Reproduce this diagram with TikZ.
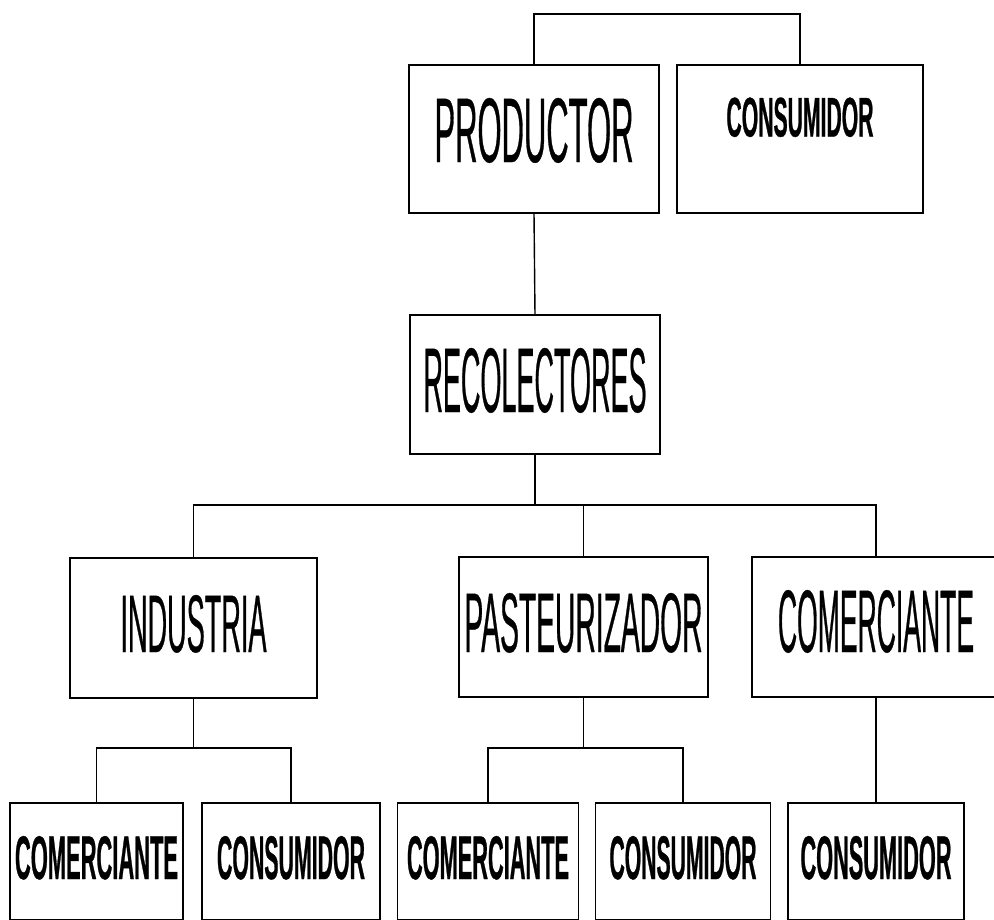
\documentclass[tikz,border=0pt]{standalone}
\usepackage{fontspec}
\setmainfont{Liberation Sans}
\newfontfamily\regc{Liberation Sans}[FakeStretch=0.4, FakeBold=0.4]
\newfontfamily\boldc{Liberation Sans}[FakeStretch=0.5, FakeBold=0.6]
\usepackage{graphicx}
\newcommand{\fitlbl}[3]{\resizebox{#1pt}{#2pt}{#3}}
\begin{document}
\begin{tikzpicture}[x=1pt,y=-1pt,
  box/.style={draw, rectangle, inner sep=0pt, outer sep=0pt, line width=1.5pt},
  conn/.style={line width=1.4pt}]
\clip (0,0) rectangle (994,919);
% top level
\node[box, minimum width=250pt, minimum height=148pt, text depth=18pt] (prod) at (534,139) {\fitlbl{199}{64}{\regc PRODUCTOR}};
\node[box, minimum width=246pt, minimum height=148pt, text depth=44pt] (cons0) at (800,139) {\fitlbl{147}{39}{\boldc\bfseries CONSUMIDOR}};
% collectors
\node[box, minimum width=250pt, minimum height=139pt, text depth=9pt] (rec) at (535,384.5) {\fitlbl{223}{64}{\regc RECOLECTORES}};
% middle level
\node[box, minimum width=247pt, minimum height=140pt, text depth=9pt] (ind) at (193.5,628) {\fitlbl{146}{57}{\regc INDUSTRIA}};
\node[box, minimum width=249pt, minimum height=140pt, text depth=9pt] (past) at (583.5,627) {\fitlbl{238}{59}{\regc PASTEURIZADOR}};
\node[box, minimum width=248pt, minimum height=140pt, text depth=12pt] (com) at (876,627) {\fitlbl{196}{62}{\regc COMERCIANTE}};
% bottom level
\node[box, minimum width=173pt, minimum height=117pt, text depth=8pt] (b1) at (96.5,861.5) {\fitlbl{163}{43}{\boldc\bfseries COMERCIANTE}};
\node[box, minimum width=178pt, minimum height=117pt, text depth=8pt] (b2) at (291,861.5) {\fitlbl{148}{43}{\boldc\bfseries CONSUMIDOR}};
\node[box, minimum width=181pt, minimum height=117pt, text depth=8pt] (b3) at (488,861.5) {\fitlbl{162}{43}{\boldc\bfseries COMERCIANTE}};
\node[box, minimum width=175pt, minimum height=117pt, text depth=8pt] (b4) at (683,861.5) {\fitlbl{147}{43}{\boldc\bfseries CONSUMIDOR}};
\node[box, minimum width=176pt, minimum height=117pt, text depth=8pt] (b5) at (876,861.5) {\fitlbl{151}{43}{\boldc\bfseries CONSUMIDOR}};
% helper levels
\coordinate (tb) at (0,14);
\coordinate (bus1) at (0,505);
\coordinate (bus2) at (0,748);
% connectors
\draw[conn] (prod.north) -- (prod.north |- tb) -- (cons0.north |- tb) -- (cons0.north);
\draw[conn] (prod.south) -- (rec.north);
\draw[conn] (rec.south) -- (rec.south |- bus1);
\draw[conn] (ind.north) -- (ind.north |- bus1) -- (com.north |- bus1) -- (com.north);
\draw[conn] (past.north) -- (past.north |- bus1);
\draw[conn] (ind.south) -- (ind.south |- bus2);
\draw[conn] (b1.north) -- (b1.north |- bus2) -- (b2.north |- bus2) -- (b2.north);
\draw[conn] (past.south) -- (past.south |- bus2);
\draw[conn] (b3.north) -- (b3.north |- bus2) -- (b4.north |- bus2) -- (b4.north);
\draw[conn] (com.south) -- (b5.north);
\end{tikzpicture}
\end{document}
